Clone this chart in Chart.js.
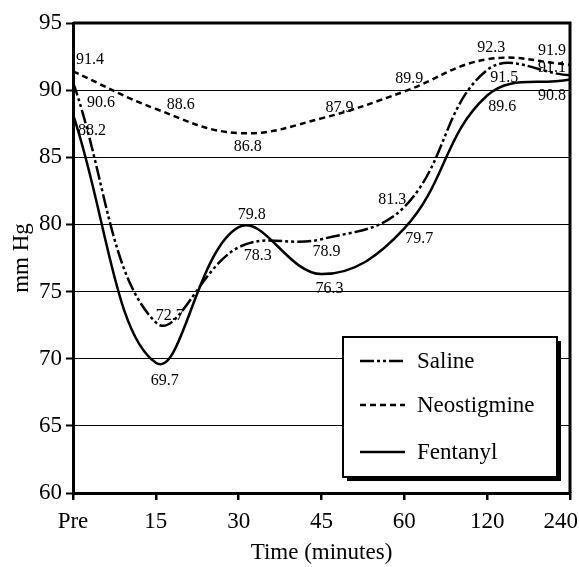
<!DOCTYPE html>
<html>
<head>
<meta charset="utf-8">
<script src="https://cdn.jsdelivr.net/npm/chart.js@4"></script>
<style>
  html, body { margin: 0; padding: 0; background: #fff; }
  #wrap { width: 579px; height: 567px; }
</style>
</head>
<body>
<div id="wrap"><canvas id="bpChart" width="579" height="567"></canvas></div>
<script>
// data
const timeLabels = ['Pre', '15', '30', '45', '60', '120', '240']
const saline = [90.6, 72.7, 78.3, 78.9, 81.3, 91.5, 91.1]
const neostigmine = [91.4, 88.6, 86.8, 87.9, 89.9, 92.3, 91.9]
const fentanyl = [88.2, 69.7, 79.8, 76.3, 79.7, 89.6, 90.8]
const yTicks = [60, 65, 70, 75, 80, 85, 90, 95]

// where each value label sits relative to its point (px)
const salineLabelPos = [[28, 21], [14, -7], [19, 9], [5, 13], [-12, -7], [17, 8], [-18, -8]]
const neoLabelPos = [[17, -12], [25, -4], [9, 14], [18, -11], [5, -13], [4, -11], [-18, -14]]
const fentLabelPos = [[19, 16], [9, 18], [13, -12], [8, 15], [15, 10], [15, 11], [-18, 16]]

const serif = "'Liberation Serif', 'DejaVu Serif', serif"

// value labels next to points
const valueLabels = {
  id: 'valueLabels',
  afterDatasetsDraw(chart) {
    const ctx = chart.ctx
    ctx.save()
    ctx.font = '16px ' + serif
    ctx.fillStyle = '#000'
    ctx.textAlign = 'center'
    ctx.textBaseline = 'middle'
    chart.data.datasets.forEach((ds, di) => {
      const meta = chart.getDatasetMeta(di)
      meta.data.forEach((pt, i) => {
        const off = ds.labelPos[i]
        ctx.fillText(ds.data[i].toFixed(1), pt.x + off[0], pt.y + off[1])
      })
    })
    ctx.restore()
  }
}

// frame, x labels and the boxed legend
const decorations = {
  id: 'decorations',
  beforeDatasetsDraw(chart) {
    const { ctx, chartArea: a } = chart
    ctx.save()
    ctx.strokeStyle = '#000'
    ctx.lineWidth = 3
    ctx.beginPath()
    ctx.moveTo(a.left, a.top)
    ctx.lineTo(a.right, a.top)
    ctx.lineTo(a.right, a.bottom)
    ctx.stroke()
    ctx.restore()
  },
  afterDraw(chart) {
    const ctx = chart.ctx
    const xs = chart.scales.x
    ctx.save()
    ctx.font = '23px ' + serif
    ctx.fillStyle = '#000'
    ctx.textAlign = 'center'
    ctx.textBaseline = 'alphabetic'
    timeLabels.forEach((lab, i) => {
      const w = ctx.measureText(lab).width
      let x = xs.getPixelForValue(i)
      x = Math.min(x, chart.width - 1 - w / 2)
      ctx.fillText(lab, x, xs.top + 35)
    })

    // legend box with drop shadow
    const bx = 343, by = 337, bw = 214, bh = 140
    ctx.fillStyle = '#000'
    ctx.fillRect(bx + 4, by + 4, bw, bh)
    ctx.fillStyle = '#fff'
    ctx.fillRect(bx, by, bw, bh)
    ctx.lineWidth = 2
    ctx.strokeStyle = '#000'
    ctx.strokeRect(bx, by, bw, bh)

    ctx.textAlign = 'left'
    ctx.textBaseline = 'middle'
    const rows = [361, 405, 452]
    chart.data.datasets.forEach((ds, i) => {
      ctx.beginPath()
      ctx.setLineDash(ds.borderDash || [])
      ctx.lineWidth = 2.5
      ctx.moveTo(360, rows[i])
      ctx.lineTo(405, rows[i])
      ctx.stroke()
      ctx.setLineDash([])
      ctx.fillStyle = '#000'
      ctx.fillText(ds.label, 417, rows[i] + 1)
    })
    ctx.restore()
  }
}

new Chart(document.getElementById('bpChart'), {
  type: 'line',
  data: {
    labels: timeLabels,
    datasets: [
      {
        label: 'Saline',
        data: saline,
        labelPos: salineLabelPos,
        borderColor: '#000',
        borderWidth: 2.5,
        borderDash: [14, 3, 3, 3, 3, 3],
        pointRadius: 0,
        tension: 0.4,
        fill: false
      },
      {
        label: 'Neostigmine',
        data: neostigmine,
        labelPos: neoLabelPos,
        borderColor: '#000',
        borderWidth: 2.5,
        borderDash: [6, 4],
        pointRadius: 0,
        tension: 0.4,
        fill: false
      },
      {
        label: 'Fentanyl',
        data: fentanyl,
        labelPos: fentLabelPos,
        borderColor: '#000',
        borderWidth: 2.5,
        pointRadius: 0,
        tension: 0.4,
        fill: false
      }
    ]
  },
  options: {
    responsive: false,
    animation: false,
    layout: { padding: { top: 23, right: 9, left: 0, bottom: 0 } },
    plugins: {
      legend: { display: false },
      tooltip: { enabled: false }
    },
    scales: {
      x: {
        offset: false,
        afterFit(scale) { scale.height = 74 },
        grid: {
          drawOnChartArea: false,
          drawTicks: true,
          tickLength: 7,
          lineWidth: 2.5,
          color: '#000'
        },
        border: { display: true, width: 3, color: '#000' },
        ticks: { display: false },
        title: {
          display: true,
          text: 'Time (minutes)',
          color: '#000',
          font: { family: serif, size: 23 },
          padding: { top: 0, bottom: 0 }
        }
      },
      y: {
        min: yTicks[0],
        max: yTicks[yTicks.length - 1],
        afterFit(scale) { scale.width = 73 },
        afterBuildTicks(scale) { scale.ticks = yTicks.map(v => ({ value: v })) },
        grid: {
          color: '#000',
          lineWidth: 1,
          tickWidth: 2,
          tickLength: 7
        },
        border: { display: true, width: 3, color: '#000' },
        ticks: {
          color: '#000',
          padding: 4,
          font: { family: serif, size: 23 }
        },
        title: {
          display: true,
          text: 'mm Hg',
          color: '#000',
          font: { family: serif, size: 23 },
          padding: { top: 8, bottom: 0 }
        }
      }
    }
  },
  plugins: [valueLabels, decorations]
})
</script>
</body>
</html>
